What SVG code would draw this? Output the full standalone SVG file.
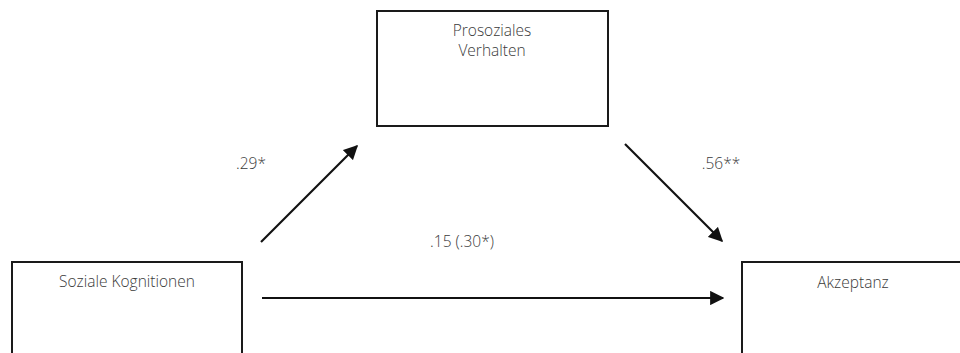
<svg xmlns="http://www.w3.org/2000/svg" width="960" height="353" viewBox="0 0 960 353">
<style>
.box{fill:#fff;stroke:#1a1a1a;stroke-width:2}
.t{font-family:"Open Sans","Liberation Sans",sans-serif;font-weight:300;font-size:15.5px;fill:#3a3a3a;text-anchor:middle}
.c{stroke:#111;stroke-width:2.2;fill:none;marker-end:url(#ah)}
</style>
<defs>
<marker id="ah" viewBox="0 0 10 10" refX="9" refY="5" markerWidth="6.5" markerHeight="6.5" markerUnits="strokeWidth" orient="auto">
<path d="M0,0 L10,5 L0,10 z" fill="#111"/>
</marker>
</defs>
<rect width="960" height="353" fill="#fff"/>
<g id="prosoziales">
<rect class="box" x="377" y="11" width="231" height="115"/>
<text class="t" x="492" y="36">Prosoziales</text>
<text class="t" x="492" y="56">Verhalten</text>
</g>
<g id="soziale">
<rect class="box" x="12" y="262" width="230" height="120"/>
<text class="t" x="127" y="287">Soziale Kognitionen</text>
</g>
<g id="akzeptanz">
<rect class="box" x="742" y="262" width="260" height="120"/>
<text class="t" x="853" y="288">Akzeptanz</text>
</g>
<g id="connectors">
<line class="c" x1="261" y1="242" x2="357" y2="146"/>
<line class="c" x1="625" y1="144" x2="722" y2="241"/>
<line class="c" x1="262" y1="298" x2="723" y2="298"/>
<text class="t" x="251" y="169">.29*</text>
<text class="t" x="721" y="169">.56**</text>
<text class="t" x="462" y="247">.15 (.30*)</text>
</g>
</svg>
